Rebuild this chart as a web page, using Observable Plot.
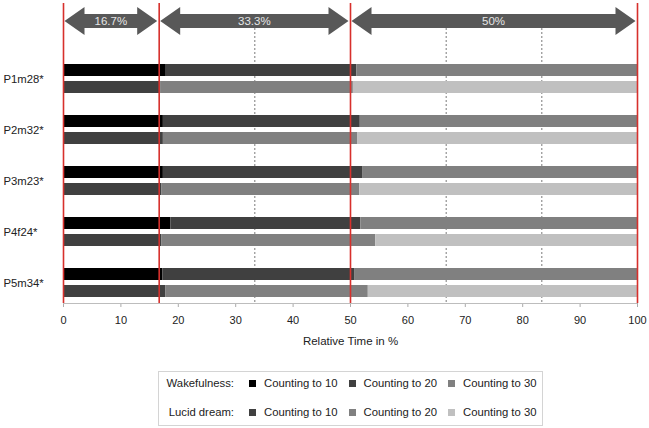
<!DOCTYPE html>
<html><head><meta charset="utf-8">
<script src="https://cdn.jsdelivr.net/npm/d3@7"></script>
<script src="https://cdn.jsdelivr.net/npm/@observablehq/plot@0.6"></script>
<style>
body{margin:0;background:#fff;font-family:"Liberation Sans",Arial,sans-serif;}
#wrap{position:relative;width:649px;height:428px;overflow:hidden;}
#legend{position:absolute;left:158px;top:371px;width:385px;height:55px;border:1px solid #d4d4d4;box-sizing:border-box;font-size:11.3px;color:#222;}
#legend .lab{position:absolute;left:0;width:75px;text-align:right;line-height:14px;}
#legend .sw{position:absolute;width:7px;height:7px;}
#legend .txt{position:absolute;line-height:14px;white-space:nowrap;}
</style>
</head><body>
<div id="wrap"><div id="chart"></div><div id="legend"></div></div>
<script>
// ---- data ----
const participants = ["P1m28*", "P2m32*", "P3m23*", "P4f24*", "P5m34*"];
// share of relative time (%) per counting phase
const wake10  = [17.9, 17.4, 17.4, 18.7, 17.3];
const wake20  = [33.2, 34.3, 34.7, 33.1, 33.5];
const wake30  = [48.9, 48.3, 47.9, 48.2, 49.2];
const lucid10 = [17.0, 17.4, 17.1, 17.1, 17.8];
const lucid20 = [33.5, 33.9, 34.5, 37.3, 35.3];
const lucid30 = [49.5, 48.7, 48.4, 45.6, 46.9];
const segmentNames = ["Counting to 10", "Counting to 20", "Counting to 30"];
const stateNames = ["Wakefulness:", "Lucid dream:"];
const wakeColors = ["#000000", "#404040", "#808080"];
const lucidColors = ["#404040", "#808080", "#c0c0c0"];
const phaseBounds = [0, 16.67, 50, 100];
const phaseLabels = ["16.7%", "33.3%", "50%"];
const subBounds = [33.33, 66.67, 83.33];
const xTicks = [0, 10, 20, 30, 40, 50, 60, 70, 80, 90, 100];
const xTitle = "Relative Time in %";

// ---- tables ----
const wakeSeries = [wake10, wake20, wake30];
const lucidSeries = [lucid10, lucid20, lucid30];
const wakeRows = participants.flatMap((p, i) => wakeSeries.map((s, j) => ({participant: p, share: s[i], fill: wakeColors[j]})));
const lucidRows = participants.flatMap((p, i) => lucidSeries.map((s, j) => ({participant: p, share: s[i], fill: lucidColors[j]})));

const H = 355, MT = 3, MB = 52;
const chart = Plot.plot({
  width: 649, height: H,
  marginLeft: 63, marginRight: 12, marginTop: MT, marginBottom: MB,
  style: {fontFamily: "Liberation Sans, Arial, sans-serif", fontSize: "11px", color: "#222", background: "#fff"},
  x: {domain: [0, 100], ticks: xTicks, tickSize: 4, tickPadding: 9, label: null},
  y: {domain: participants, range: [51, 310], padding: 0, axis: null},
  color: {type: "identity"},
  marks: [
    Plot.ruleX(subBounds, {stroke: "#7a7a7a", strokeDasharray: "2,2", strokeWidth: 1, insetTop: 25}),
    Plot.barX(wakeRows, {x: "share", y: "participant", fill: "fill", insetTop: 11, insetBottom: 28}),
    Plot.barX(lucidRows, {x: "share", y: "participant", fill: "fill", insetTop: 28, insetBottom: 11}),
    Plot.ruleX(phaseBounds, {stroke: "#d7302c", strokeWidth: 1.6}),
    Plot.text(participants, {y: d => d, text: d => d, frameAnchor: "left", textAnchor: "start", dx: -60, fontSize: 11.3, fill: "#222"}),
    Plot.text([xTitle], {text: d => d, frameAnchor: "bottom", lineAnchor: "middle", dy: 38, fontSize: 11.5, fill: "#222"})
  ]
});
document.getElementById("chart").appendChild(chart);

// ---- post-render: axis styling and phase arrows, via Plot's x scale ----
const xs = chart.scale("x");
const svg = d3.select(chart.tagName.toLowerCase() === "svg" ? chart : chart.querySelector("svg"));
svg.selectAll('[aria-label="x-axis"] .tick line').attr("stroke", "#aaa");
svg.selectAll('[aria-label="x-axis tick"]').attr("stroke", "#aaa");
const yAxis = H - MB;
svg.append("line")
  .attr("x1", xs.apply(0)).attr("x2", xs.apply(100))
  .attr("y1", yAxis + 0.5).attr("y2", yAxis + 0.5)
  .attr("stroke", "#bdbdbd");

const cy = 21, head = 20, hh = 14, sh = 7, gap = 1.5;
const arrows = svg.append("g");
for (let i = 0; i < phaseLabels.length; i++) {
  const a = xs.apply(phaseBounds[i]) + gap, b = xs.apply(phaseBounds[i + 1]) - gap;
  const pts = [[a, cy], [a + head, cy - hh], [a + head, cy - sh], [b - head, cy - sh], [b - head, cy - hh], [b, cy],
               [b - head, cy + hh], [b - head, cy + sh], [a + head, cy + sh], [a + head, cy + hh]];
  arrows.append("polygon").attr("points", pts.map(p => p.join(",")).join(" ")).attr("fill", "#585858");
  arrows.append("text").attr("x", (a + b) / 2).attr("y", cy).attr("dy", "0.35em")
    .attr("text-anchor", "middle").attr("fill", "#e6e6e6")
    .attr("font-size", 11.5).attr("font-family", "Liberation Sans, Arial, sans-serif")
    .text(phaseLabels[i]);
}

// ---- legend ----
const legend = document.getElementById("legend");
const rowsColors = [wakeColors, lucidColors];
const rowTop = [4, 33];
stateNames.forEach((name, r) => {
  const lab = document.createElement("div");
  lab.className = "lab"; lab.style.top = rowTop[r] + "px"; lab.textContent = name;
  legend.appendChild(lab);
  segmentNames.forEach((s, j) => {
    const sw = document.createElement("div");
    sw.className = "sw"; sw.style.background = rowsColors[r][j];
    sw.style.left = (90 + 99.5 * j) + "px"; sw.style.top = (rowTop[r] + 4) + "px";
    legend.appendChild(sw);
    const t = document.createElement("div");
    t.className = "txt"; t.textContent = s;
    t.style.left = (105 + 99.5 * j) + "px"; t.style.top = rowTop[r] + "px";
    legend.appendChild(t);
  });
});
</script>
</body></html>
